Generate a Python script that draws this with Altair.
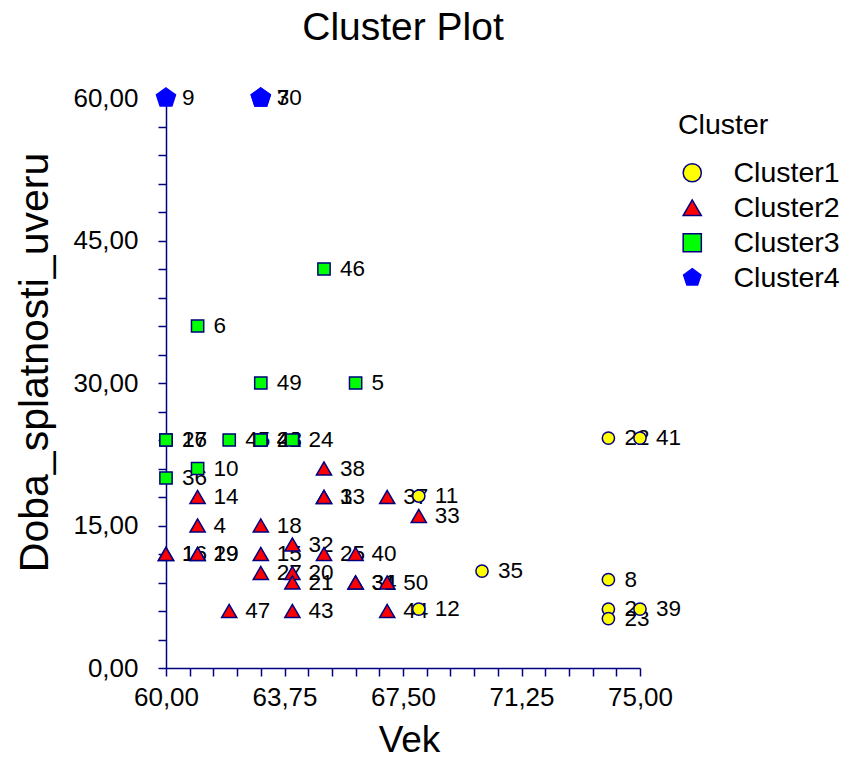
import altair as alt
import pandas as pd

ids = [22, 41, 11, 35, 8, 12, 2, 23, 39,
       1, 16, 19, 29, 14, 4, 18, 15, 27, 32, 20, 21, 47, 43, 38, 3, 13, 37, 33, 25, 40, 34, 31, 50, 44,
       17, 26, 45, 28, 42, 48, 24, 6, 49, 5, 46, 10, 36,
       9, 7, 30]
vek = [74, 75, 68, 70, 74, 68, 74, 74, 75,
       60, 60, 61, 61, 61, 61, 63, 63, 63, 64, 64, 64, 62, 64, 65, 65, 65, 67, 68, 65, 66, 66, 66, 67, 67,
       60, 60, 62, 63, 63, 63, 64, 61, 63, 66, 65, 61, 60,
       60, 63, 63]
doba = [24.2, 24.2, 18.1, 10.2, 9.3, 6.2, 6.2, 5.2, 6.2,
        12, 12, 12, 12, 18, 15, 15, 12, 10, 13, 10, 9, 6, 6, 21, 18, 18, 18, 16, 12, 12, 9, 9, 9, 6,
        24, 24, 24, 24, 24, 24, 24, 36, 30, 30, 42, 21, 20,
        60, 60, 60]
cluster = (["Cluster1"] * 9 + ["Cluster2"] * 25 + ["Cluster3"] * 13 + ["Cluster4"] * 3)

df = pd.DataFrame({"id": ids, "Vek": vek, "Doba": doba, "Cluster": cluster})
df["label"] = df["id"].astype(str)

clusters = ["Cluster1", "Cluster2", "Cluster3", "Cluster4"]
fills = ["#FFFF00", "#FF0000", "#00FF00", "#0000FF"]
strokes = ["#000080", "#000080", "#000080", "#0000FF"]
pent = "M0,-1L0.951,-0.309L0.588,0.809L-0.588,0.809L-0.951,-0.309Z"
shapes = ["circle", "triangle-up", "square", pent]
mark_sizes = [150, 230, 150, 400]

x_ticks = [60 + 0.75 * i for i in range(21)]
y_ticks = [3 * i for i in range(21)]

FONT = "Liberation Sans"
AX = "#000080"

xenc = alt.X(
    "Vek:Q",
    scale=alt.Scale(domain=[60, 75], nice=False, zero=False),
    axis=alt.Axis(
        values=x_ticks,
        labelExpr="round(datum.value*100) % 375 == 0 ? replace(format(datum.value, '.2f'), '.', ',') : ''",
        labelOverlap=False, labelFlush=False,
        title="Vek", titleX=243, titleY=72, titleAlign="center", titleBaseline="middle",
        labelPadding=8,
    ),
)
yenc = alt.Y(
    "Doba:Q",
    scale=alt.Scale(domain=[0, 60], nice=False, zero=False),
    axis=alt.Axis(
        values=y_ticks,
        labelExpr="datum.value % 15 == 0 ? replace(format(datum.value, '.2f'), '.', ',') : ''",
        labelOverlap=False, labelFlush=False,
        title="Doba_splatnosti_uveru", titleX=-131, titleY=264, titleAlign="center",
        titleBaseline="middle", titleAngle=-90, titleFontSize=41,
        labelPadding=20,
    ),
)

base = alt.Chart(df)

text = base.mark_text(align="left", baseline="middle", dx=16, fontSize=22.5, font=FONT, color="black").encode(
    x=xenc, y=yenc, text="label:N"
)

color_enc = alt.Color("Cluster:N", scale=alt.Scale(domain=clusters, range=fills),
                      legend=alt.Legend(title="Cluster", orient="none", legendX=512, legendY=13))
shape_enc = alt.Shape("Cluster:N", scale=alt.Scale(domain=clusters, range=shapes), title="Cluster")
stroke_enc = alt.Stroke("Cluster:N", scale=alt.Scale(domain=clusters, range=strokes), title="Cluster")

layers = [text]
for c, s in zip(clusters, mark_sizes):
    layers.append(
        base.transform_filter(alt.datum.Cluster == c)
        .mark_point(filled=True, opacity=1, strokeWidth=1.5, size=s)
        .encode(x=xenc, y=yenc, color=color_enc, shape=shape_enc, stroke=stroke_enc)
    )

chart = alt.layer(*layers).properties(
    width=474, height=570,
    title=alt.TitleParams("Cluster Plot", fontSize=39, font=FONT, fontWeight="normal", color="black",
                          anchor="middle", offset=37),
    autosize=alt.AutoSizeParams(type="none"),
    padding={"left": 166, "top": 98, "right": 209, "bottom": 92},
).configure_view(stroke=None).configure_axis(
    grid=False, domainColor=AX, tickColor=AX, domainWidth=1.5, tickWidth=1.5, tickSize=8,
    labelFont=FONT, labelFontSize=26, labelColor="black",
    titleFont=FONT, titleFontSize=37, titleFontWeight="normal", titleColor="black",
).configure_legend(
    titleFont=FONT, titleFontSize=28.5, titleFontWeight="normal", titleColor="black",
    labelFont=FONT, labelFontSize=28.5, labelColor="black",
    symbolSize=330, symbolStrokeWidth=1.5, rowPadding=6, titlePadding=19, labelOffset=27,
)

chart.save("out.html", embed_options={"renderer": "svg", "actions": False})
